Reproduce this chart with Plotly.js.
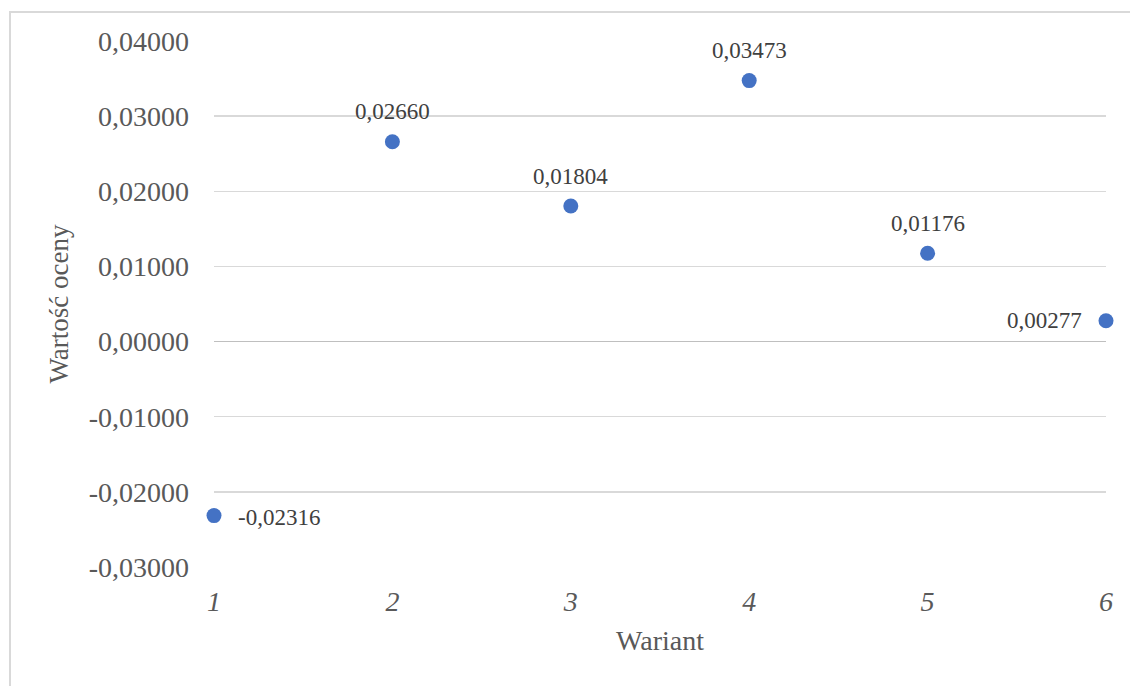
<!DOCTYPE html>
<html>
<head>
<meta charset="utf-8">
<script src="https://cdn.plot.ly/plotly-3.0.1.min.js"></script>
<style>
  html, body { margin: 0; padding: 0; background: #fff; }
  #wrap { position: relative; width: 1130px; height: 686px; overflow: hidden; }
  #frame { position: absolute; left: 9px; top: 11px; width: 1130px; height: 700px;
           border-left: 2px solid #d9d9d9; border-top: 2px solid #d9d9d9; box-sizing: border-box; pointer-events: none; }
  #chart { position: absolute; left: 0; top: 0; width: 1130px; height: 686px; }
</style>
</head>
<body>
<div id="wrap">
  <div id="chart"></div>
  <div id="frame"></div>
</div>
<script>
// Wariant numbers and evaluation values
const warianty = [1, 2, 3, 4, 5, 6];
const wartosci = [-0.02316, 0.02660, 0.01804, 0.03473, 0.01176, 0.00277];
// where each value label sits relative to its point
const stronyEtykiet = ['right', 'top', 'top', 'top', 'top', 'left'];
const yTicks = [-0.03, -0.02, -0.01, 0, 0.01, 0.02, 0.03, 0.04];

const fmt = v => v.toFixed(5).replace('.', ',');

const serif = 'Liberation Serif, Times New Roman, serif';

const trace = {
  x: warianty,
  y: wartosci,
  type: 'scatter',
  mode: 'markers',
  marker: { color: '#4472C4', size: 15 },
  cliponaxis: false,
  hoverinfo: 'x+y'
};

const offsets = {
  top:   { xanchor: 'center', yanchor: 'middle', xshift: 0,   yshift: 30 },
  right: { xanchor: 'left',   yanchor: 'middle', xshift: 22,  yshift: -2 },
  left:  { xanchor: 'right',  yanchor: 'middle', xshift: -22, yshift: 0 }
};

const etykiety = warianty.map((w, i) => Object.assign({
  x: w,
  y: wartosci[i],
  xref: 'x',
  yref: 'y',
  text: fmt(wartosci[i]),
  showarrow: false,
  font: { family: serif, size: 23, color: '#404040' }
}, offsets[stronyEtykiet[i]]));

const layout = {
  width: 1130,
  height: 686,
  margin: { l: 214, r: 24, t: 41, b: 119 },
  paper_bgcolor: 'rgba(0,0,0,0)',
  plot_bgcolor: '#fff',
  showlegend: false,
  font: { family: serif, color: '#595959' },
  annotations: etykiety,
  xaxis: {
    range: [1, 6],
    tickvals: warianty,
    ticktext: warianty.map(w => '<i>' + w + '</i>'),
    showgrid: false,
    zeroline: false,
    showline: false,
    ticks: '',
    ticklabelstandoff: 15,
    tickfont: { family: serif, size: 28, color: '#595959' },
    title: { text: 'Wariant', font: { family: serif, size: 28, color: '#595959' }, standoff: 14 }
  },
  yaxis: {
    range: [-0.03, 0.04],
    tickvals: yTicks,
    ticktext: yTicks.map(v => fmt(v).replace('-0,00000', '0,00000')),
    showgrid: true,
    gridcolor: '#d9d9d9',
    gridwidth: 1.3,
    zeroline: true,
    zerolinecolor: '#bfbfbf',
    zerolinewidth: 1.5,
    showline: false,
    ticks: '',
    ticklabelstandoff: 24,
    tickfont: { family: serif, size: 28, color: '#595959' },
    title: { text: 'Wartość oceny', font: { family: serif, size: 27, color: '#595959' }, standoff: 12 }
  }
};

Plotly.newPlot('chart', [trace], layout, { displayModeBar: false, staticPlot: true });
</script>
</body>
</html>
